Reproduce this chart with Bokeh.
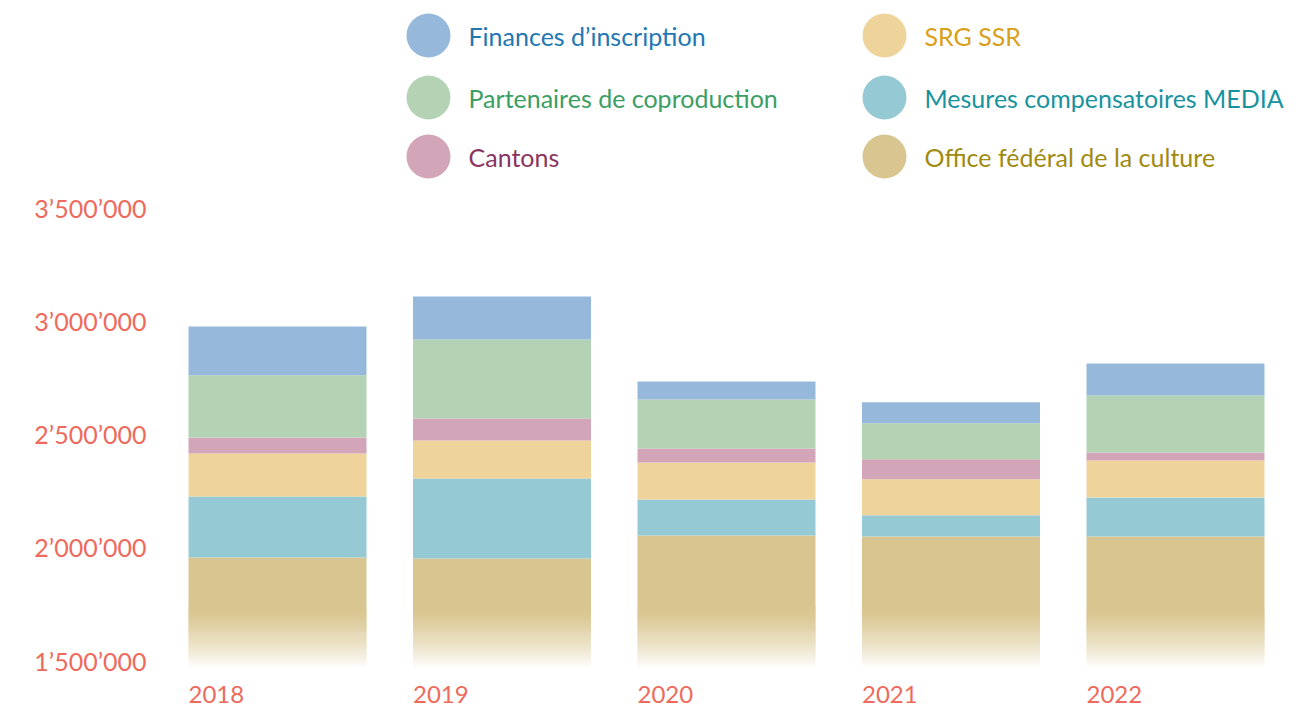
from bokeh.plotting import figure
from bokeh.models import Range1d, FixedTicker
from bokeh.core.properties import value
from bokeh.embed import file_html
from bokeh.resources import INLINE
import numpy as np

# ---------------- data ----------------
years = [2018, 2019, 2020, 2021, 2022]
office_federal = [1955000, 1950000, 2052000, 2048000, 2048000]
mesures_media = [269000, 353000, 159000, 93000, 172000]
srg_ssr = [190000, 168000, 163000, 159000, 163000]
cantons = [71000, 97000, 62000, 88000, 35000]
partenaires = [274000, 349000, 216000, 159000, 252000]
finances_inscription = [216000, 190000, 80000, 93000, 141000]

series_names = ["Office fédéral de la culture", "Mesures compensatoires MEDIA", "SRG SSR",
                "Cantons", "Partenaires de coproduction", "Finances d’inscription"]
series_values = [office_federal, mesures_media, srg_ssr, cantons, partenaires, finances_inscription]
fill_colors = ["#d9c590", "#95c9d3", "#eed49b", "#d2a5b8", "#b4d3b5", "#96b9db"]
text_colors = ["#a08a10", "#17929e", "#d9a01a", "#8a3560", "#3b9e63", "#2277b3"]

y_ticks = [1500000, 2000000, 2500000, 3000000, 3500000]
y_tick_labels = ["1’500’000", "2’000’000", "2’500’000", "3’000’000", "3’500’000"]

base_value = 1465000      # where the faded bottom of the bars ends
fade_top_value = 1735000  # where the fade starts

# ---------------- layout ----------------
W, H = 1300, 706
left_border = 160
px_per_unit_y = 500000 / 113.25
y_top = 3500000 + 207 * px_per_unit_y
y_bot = 3500000 - (H - 207) * px_per_unit_y
bar_step_px = 224.5
x0_canvas = 277.0
x_lo = years[0] + (left_border - x0_canvas) / bar_step_px
x_hi = years[0] + (W - x0_canvas) / bar_step_px
bar_w = 178 / bar_step_px

def px2x(px):
    return years[0] + (px - x0_canvas) / bar_step_px

def px2y(py):
    return y_top - py * px_per_unit_y

FONT = "Lato"

p = figure(width=W, height=H, output_backend="svg", toolbar_location=None,
           x_range=Range1d(x_lo, x_hi), y_range=Range1d(y_bot, y_top),
           min_border_left=left_border, min_border_right=0, min_border_top=0, min_border_bottom=0)
p.xaxis.visible = False
p.xgrid.visible = False
p.ygrid.visible = False
p.outline_line_color = None
p.background_fill_color = "white"
p.border_fill_color = "white"

yax = p.yaxis[0]
yax.ticker = FixedTicker(ticks=y_ticks)
yax.major_label_overrides = {t: l for t, l in zip(y_ticks, y_tick_labels)}
yax.axis_line_color = None
yax.major_tick_line_color = None
yax.minor_tick_line_color = None
yax.major_tick_out = 0
yax.major_tick_in = 0
yax.major_label_standoff = 14
yax.major_label_text_font = FONT
yax.major_label_text_font_size = "25px"
yax.major_label_text_color = "#ee6a5c"

# ---------------- stacked bars ----------------
cum = np.zeros(len(years))
for k, (vals, col) in enumerate(zip(series_values, fill_colors)):
    vals = np.array(vals, dtype=float)
    start = np.full(len(years), fade_top_value) if k == 0 else cum
    top = cum + vals
    p.vbar(x=years, width=bar_w, bottom=start, top=top, fill_color=col, line_color=None)
    cum = top

# faded bottom of the bars: opaque strips blending the first colour into white
def blend(hex_col, t):
    r, g, b = (int(hex_col[i:i + 2], 16) for i in (1, 3, 5))
    r = round(r + (255 - r) * t)
    g = round(g + (255 - g) * t)
    b = round(b + (255 - b) * t)
    return "#%02x%02x%02x" % (r, g, b)

n_strips = 60
edges = np.linspace(base_value, fade_top_value, n_strips + 1)
strip_h = edges[1] - edges[0]
lefts, rights, bots, tops, cols = [], [], [], [], []
for yr in years:
    for i in range(n_strips):
        lefts.append(yr - bar_w / 2)
        rights.append(yr + bar_w / 2)
        bots.append(edges[i])
        tops.append(edges[i + 1] + strip_h * 0.6)
        t = 1 - (i + 0.5) / n_strips
        cols.append(blend(fill_colors[0], t ** 1.4))
p.quad(left=lefts, right=rights, bottom=bots, top=tops,
       fill_color=cols, line_color=None)

# year labels (left-aligned with bars)
p.text(x=[y - bar_w / 2 for y in years], y=[px2y(702)] * len(years),
       text=[str(y) for y in years], text_align="left", text_baseline="bottom",
       text_font=value(FONT), text_font_size="24px", text_color="#ee6a5c")

# ---------------- legend ----------------
legend_order = [5, 4, 3, 2, 1, 0]  # finances, partenaires, cantons | srg, media, office
col_circle_px = [428, 884]
col_text_px = [468, 924]
row_px = [35, 97, 156]
lx, ly, ltx, lc, lt, ltc = [], [], [], [], [], []
for k, idx in enumerate(legend_order):
    c, r = divmod(k, 3)
    lx.append(px2x(col_circle_px[c]))
    ltx.append(px2x(col_text_px[c]))
    ly.append(px2y(row_px[r]))
    lc.append(fill_colors[idx])
    lt.append(series_names[idx])
    ltc.append(text_colors[idx])
p.scatter(x=lx, y=ly, size=44, fill_color=lc, line_color=None, marker="circle")
p.text(x=ltx, y=ly, text=lt, text_color=ltc, text_align="left", text_baseline="middle",
       text_font=value(FONT), text_font_size="25px")

open("out.html", "w").write(file_html(p, INLINE))
